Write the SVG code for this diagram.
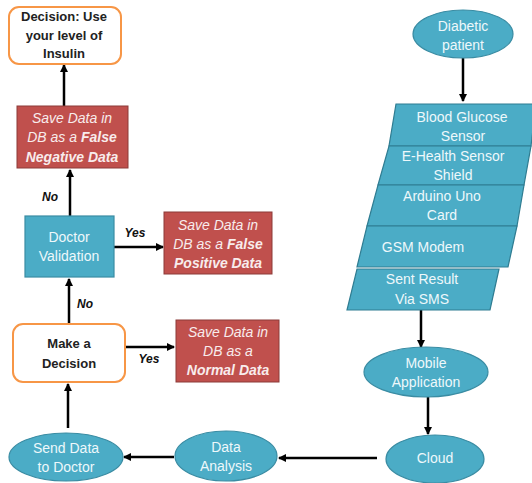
<svg xmlns="http://www.w3.org/2000/svg" width="532" height="483" viewBox="0 0 532 483">
<defs>
<marker id="ah" markerWidth="8" markerHeight="8" refX="7" refY="4" orient="auto" markerUnits="userSpaceOnUse">
<path d="M0,0 L8,4 L0,8 Z" fill="#000"/>
</marker>
<style>
.blue{fill:#4BACC6;stroke:#3A8CA3;stroke-width:1.2}
.red{fill:#C0504D;stroke:#8C3A38;stroke-width:1}
.org{fill:#fff;stroke:#F79646;stroke-width:2}
.wt{font-family:"Liberation Sans",Arial,sans-serif;font-size:14px;fill:#EEF8FB;text-anchor:middle;dominant-baseline:central}
.rt{font-family:"Liberation Sans",Arial,sans-serif;font-size:14px;fill:#F8ECEC;text-anchor:middle;dominant-baseline:central;font-style:italic}
.bt{font-family:"Liberation Sans",Arial,sans-serif;font-size:13px;fill:#222;font-weight:bold;text-anchor:middle;dominant-baseline:central}
.lbl{font-family:"Liberation Sans",Arial,sans-serif;font-size:12px;fill:#111;font-weight:bold;font-style:italic;text-anchor:middle;dominant-baseline:central}
.c{stroke:#000;stroke-width:2.5;fill:none;marker-end:url(#ah)}
</style>
</defs>
<g id="connectors">
<line class="c" x1="463" y1="58" x2="463" y2="101"/>
<line class="c" x1="421" y1="310" x2="421" y2="347"/>
<line class="c" x1="428" y1="397" x2="428" y2="434"/>
<line class="c" x1="377" y1="458" x2="279" y2="458"/>
<line class="c" x1="174" y1="457" x2="124" y2="457"/>
<line class="c" x1="68" y1="428" x2="68" y2="384"/>
<line class="c" x1="125" y1="347" x2="174" y2="347"/>
<line class="c" x1="69" y1="324" x2="69" y2="279"/>
<line class="c" x1="114" y1="247" x2="163" y2="247"/>
<line class="c" x1="70" y1="216" x2="70" y2="170"/>
<line class="c" x1="64" y1="106" x2="64" y2="65"/>
<text class="lbl" x="50" y="197">No</text>
<text class="lbl" x="135" y="233">Yes</text>
<text class="lbl" x="85" y="304">No</text>
<text class="lbl" x="149" y="359">Yes</text>
</g>
<g id="diabetic-patient">
<ellipse class="blue" cx="463" cy="34" rx="50" ry="24"/>
<text class="wt" x="463" y="26">Diabetic</text>
<text class="wt" x="463" y="45">patient</text>
</g>
<g id="blood-glucose-sensor">
<polygon class="blue" points="396,104 536,104 531,146 389,146" style="stroke:#2F7C91"/>
<text class="wt" x="462" y="117">Blood Glucose</text>
<text class="wt" x="463" y="136">Sensor</text>
</g>
<g id="e-health-shield">
<polygon class="blue" points="389,146 531,146 524,185 378,185" style="stroke:#2F7C91"/>
<text class="wt" x="453" y="156">E-Health Sensor</text>
<text class="wt" x="453" y="175">Shield</text>
</g>
<g id="arduino">
<polygon class="blue" points="378,185 524,185 517,226 367,226" style="stroke:#2F7C91"/>
<text class="wt" x="442" y="196">Arduino Uno</text>
<text class="wt" x="442" y="215">Card</text>
</g>
<g id="gsm-modem">
<polygon class="blue" points="367,226 517,226 508,267 357,267" style="stroke:#2F7C91"/>
<text class="wt" x="423" y="247">GSM Modem</text>
</g>
<g id="sent-result">
<polygon class="blue" points="357,269 499,269 490,310 347,310" style="stroke:#2F7C91"/>
<text class="wt" x="422" y="279">Sent Result</text>
<text class="wt" x="422" y="299">Via SMS</text>
</g>
<g id="mobile-application">
<ellipse class="blue" cx="426" cy="372" rx="62" ry="25"/>
<text class="wt" x="426" y="363">Mobile</text>
<text class="wt" x="426" y="382">Application</text>
</g>
<g id="cloud">
<ellipse class="blue" cx="435" cy="459" rx="49" ry="24"/>
<text class="wt" x="435" y="458">Cloud</text>
</g>
<g id="data-analysis">
<ellipse class="blue" cx="226" cy="456" rx="51" ry="25"/>
<text class="wt" x="226" y="447">Data</text>
<text class="wt" x="226" y="466">Analysis</text>
</g>
<g id="send-data-to-doctor">
<ellipse class="blue" cx="66" cy="457" rx="57" ry="24"/>
<text class="wt" x="66" y="448">Send Data</text>
<text class="wt" x="66" y="467">to Doctor</text>
</g>
<g id="make-a-decision">
<rect class="org" x="13" y="324" width="112" height="58" rx="10"/>
<text class="bt" x="69" y="343">Make a</text>
<text class="bt" x="69" y="363">Decision</text>
</g>
<g id="normal-data">
<rect class="red" x="176" y="320" width="103" height="62"/>
<text class="rt" x="228" y="332">Save Data in</text>
<text class="rt" x="228" y="351">DB as a</text>
<text class="rt" x="228" y="370" font-weight="bold">Normal Data</text>
</g>
<g id="doctor-validation">
<rect class="blue" x="25" y="216" width="89" height="61"/>
<text class="wt" x="69" y="237">Doctor</text>
<text class="wt" x="69" y="256">Validation</text>
</g>
<g id="false-positive">
<rect class="red" x="164" y="212" width="108" height="62"/>
<text class="rt" x="218" y="225">Save Data in</text>
<text class="rt" x="218" y="244">DB as a <tspan font-weight="bold">False</tspan></text>
<text class="rt" x="218" y="263" font-weight="bold">Positive Data</text>
</g>
<g id="false-negative">
<rect class="red" x="17" y="106" width="111" height="62"/>
<text class="rt" x="72" y="118">Save Data in</text>
<text class="rt" x="72" y="137">DB as a <tspan font-weight="bold">False</tspan></text>
<text class="rt" x="72" y="157" font-weight="bold">Negative Data</text>
</g>
<g id="decision-insulin">
<rect class="org" x="9" y="7" width="112" height="57" rx="10"/>
<text class="bt" x="64" y="16">Decision: Use</text>
<text class="bt" x="64" y="35">your level of</text>
<text class="bt" x="64" y="53">Insulin</text>
</g>
</svg>
